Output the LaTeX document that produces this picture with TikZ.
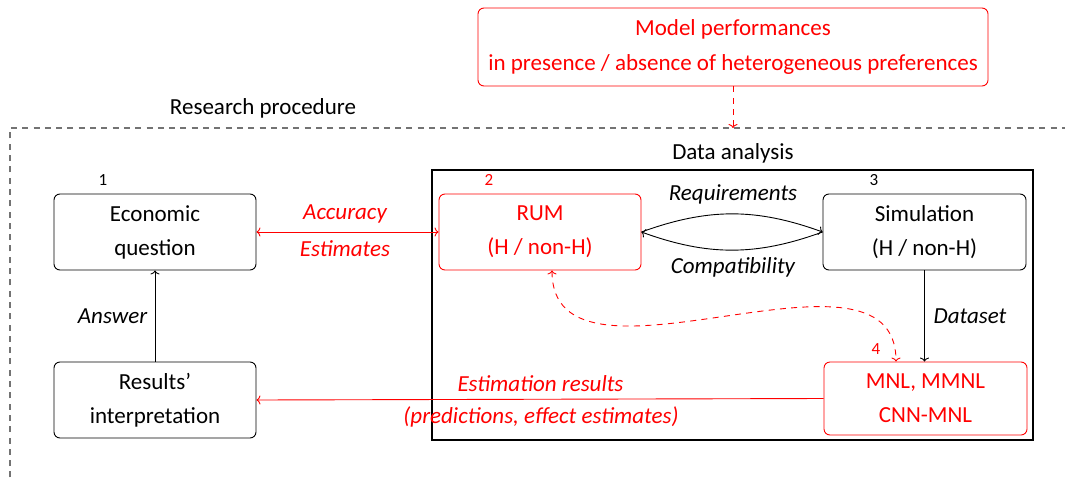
\documentclass[tikz,border=0pt]{standalone}
\usepackage{fontspec}
\setmainfont{Carlito}
\usetikzlibrary{arrows.meta}
\begin{document}
\begin{tikzpicture}[x=1pt,y=-1pt,
  box/.style={draw, line width=0.9pt, rounded corners=6pt, minimum width=202pt, minimum height=76pt, align=center, font=\fontsize{23}{34}\selectfont, inner sep=0pt},
  redbox/.style={box, draw=red, text=red},
  lbl/.style={font=\fontsize{23}{28}\selectfont\itshape, anchor=base, inner sep=0pt},
  plain/.style={font=\fontsize{23}{28}\selectfont, anchor=base, inner sep=0pt},
  num/.style={font=\fontsize{17}{20}\selectfont, anchor=base, inner sep=0pt},
  tip/.style={{To[length=4pt,width=9pt]}},
  conn/.style={line width=0.9pt, -{To[length=4pt,width=9pt]}},
  biconn/.style={line width=0.9pt, {To[length=4pt,width=9pt]}-{To[length=4pt,width=9pt]}},
  dsh/.style={dash pattern=on 6pt off 5.3pt},
]
\useasboundingbox (0,0) rectangle (1065,482);
\clip (0,0) rectangle (1065,482);

% outer research procedure frame
\draw[black!55, line width=1.2pt, dsh] (10,500) -- (10,128) -- (1080,128);
\coordinate (frametop) at (733,128);
\node[plain] (rp) at (263,114) {Research procedure};

% top box
\node[redbox, minimum width=510pt, minimum height=78pt, font=\fontsize{23}{35}\selectfont] (perf) at (733,47) {Model performances\\in presence / absence of heterogeneous preferences};
\draw[red, line width=0.9pt, dsh, -{To[length=4pt,width=9pt]}] (perf.south) -- (frametop);

% data analysis frame
\node[draw, line width=1.6pt, minimum width=601pt, minimum height=270pt, inner sep=0pt] (da) at (732.5,305) {};
\node[plain] (dal) at (733,159) {Data analysis};

% nodes
\node[box] (econ) at (155,232) {Economic\\question};
\node[redbox] (rum) at (540,232) {RUM\\(H / non-H)};
\node[box, minimum width=203pt] (sim) at (924.5,232) {Simulation\\(H / non-H)};
\node[redbox, minimum width=203pt, minimum height=73pt] (mnl) at (925.5,398.5) {MNL, MMNL\\CNN-MNL};
\node[box] (res) at (155,400) {Results'\\interpretation};

% numbers
\node[num] (n1) at (103,185) {1};
\node[num, text=red] (n2) at (489,185) {2};
\node[num] (n3) at (874,185) {3};
\node[num, text=red] (n4) at (876,354) {4};

% connectors
\draw[biconn, red] (econ.east) -- (rum.west);
\node[lbl, text=red] (acc) at (345,219) {Accuracy};
\node[lbl, text=red] (est) at (345,256) {Estimates};

\draw[conn] (rum.east) to[bend left=20] (sim.west);
\draw[conn] (sim.west) to[bend left=20] (rum.east);
\node[lbl] (req) at (733,200) {Requirements};
\node[lbl] (comp) at (733,273) {Compatibility};

\draw[conn] (sim.south) -- (mnl.north -| sim.south);
\node[lbl] (ds) at (970,323) {Dataset};

\draw[conn] (res.north) -- (econ.south);
\node[lbl] (ans) at (112.5,323) {Answer};

\draw[conn, red] (mnl.west) -- (res.east);
\node[lbl, text=red] (er) at (540.5,391.5) {Estimation results};
\node[lbl, text=red] (pe) at (541,423) {(predictions, effect estimates)};

\draw[biconn, red, dsh] ([xshift=12pt]rum.south) .. controls (552,411) and (896,222) .. ([xshift=-29.5pt]mnl.north);
\end{tikzpicture}
\end{document}
